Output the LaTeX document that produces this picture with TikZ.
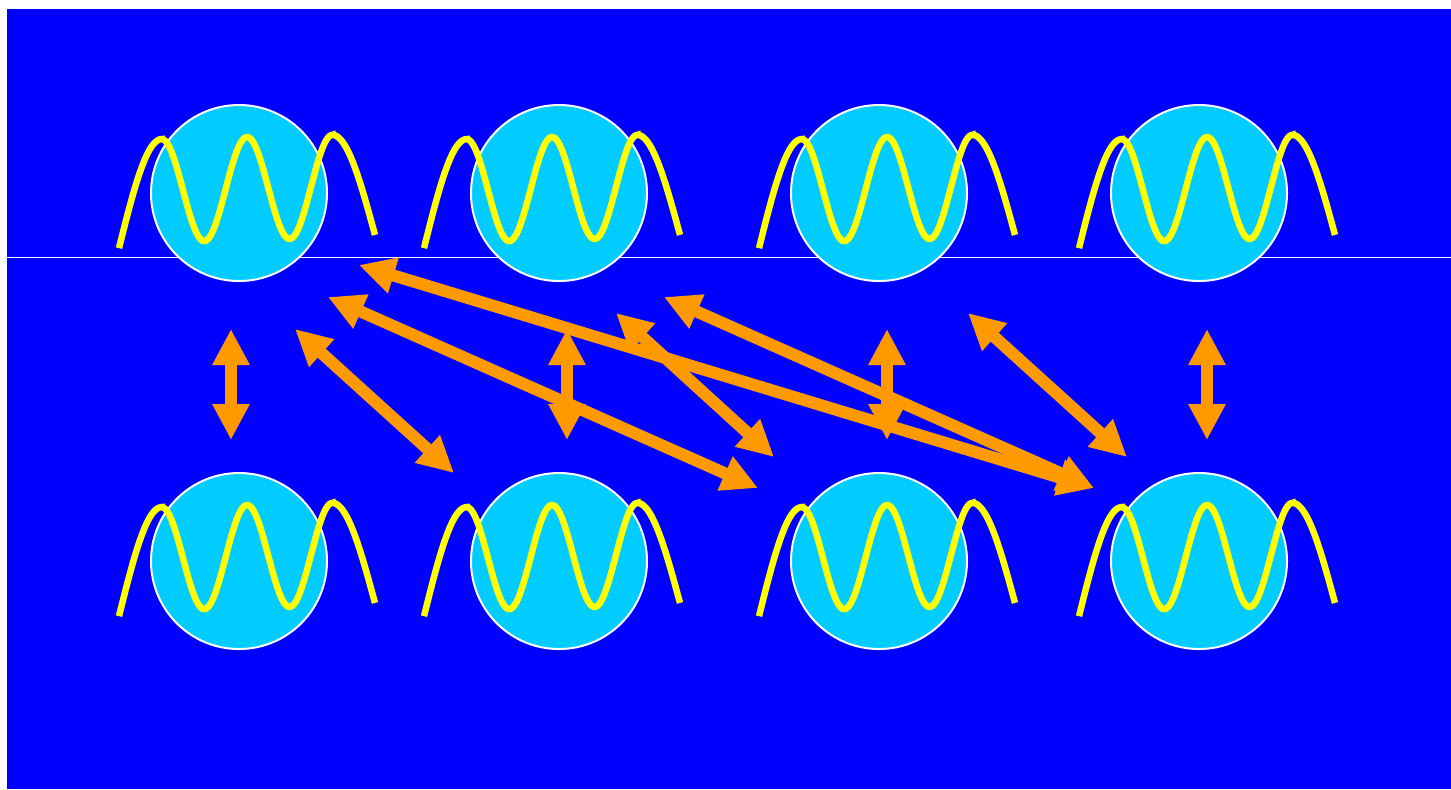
\documentclass[tikz,border=0pt]{standalone}
\usepackage{tikz}
\usetikzlibrary{arrows.meta}
\definecolor{backblue}{RGB}{0,0,255}
\definecolor{ballcyan}{RGB}{0,204,255}
\definecolor{linkorange}{RGB}{255,153,0}
\definecolor{waveyellow}{RGB}{255,255,0}
\tikzset{
	ball/.style={circle, fill=ballcyan, draw=white, line width=0.2mm, minimum size=17.6mm, inner sep=0pt},
	link/.style={draw=linkorange, line width=1.2mm, {Triangle[length=3.6mm,width=3.5mm]}-{Triangle[length=3.6mm,width=3.5mm]}},
	pics/ripple/.style={code={
		\draw[waveyellow, line width=0.65mm]
			plot[domain=-128:-85.33, samples=30, smooth] (\x,{-53.9+109*(1-cos(2.1094*(\x+85.33)))})
			-- plot[domain=-85.33:85.33, samples=90, smooth] (\x,{-4.5-0.025*\x-51.5*cos(4.21875*\x)})
			-- plot[domain=85.33:128, samples=30, smooth] (\x,{-58.1+100*(1-cos(2.1094*(\x-85.33)))});
	}}
}
\begin{document}
\begin{tikzpicture}[x=0.1mm, y=-0.1mm]
		\useasboundingbox (0,0) rectangle (1451,789);
		\fill[white] (0,0) rectangle (1451,789);
		\fill[backblue] (7,9) rectangle (1451,789);
		\draw[white, line width=0.1mm] (7,257)--(1451,257);
		% top row
		\node[ball] (t1) at (239,193) {};
		\node[ball] (t2) at (559,193) {};
		\node[ball] (t3) at (879,193) {};
		\node[ball] (t4) at (1199,193) {};
		\pic at (247,193) {ripple};
		\pic at (552,193) {ripple};
		\pic at (887,193) {ripple};
		\pic at (1207,193) {ripple};
		% bottom row
		\node[ball] (b1) at (239,561) {};
		\node[ball] (b2) at (559,561) {};
		\node[ball] (b3) at (879,561) {};
		\node[ball] (b4) at (1199,561) {};
		\pic at (247,561) {ripple};
		\pic at (552,561) {ripple};
		\pic at (887,561) {ripple};
		\pic at (1207,561) {ripple};
		%
		\coordinate (t1v) at (231,329);
		\coordinate (b1v) at (231,440);
		\coordinate (t2v) at (567,329);
		\coordinate (b2v) at (567,440);
		\coordinate (t3v) at (887,329);
		\coordinate (b3v) at (887,440);
		\coordinate (t4v) at (1207,329);
		\coordinate (b4v) at (1207,440);
		\coordinate (t1d) at (295,329);
		\coordinate (b2d) at (454,473);
		\coordinate (t2d) at (616,313);
		\coordinate (b3d) at (774,457);
		\coordinate (t3d) at (968,313);
		\coordinate (b4d) at (1127,457);
		\coordinate (t1l) at (328,297);
		\coordinate (b3l) at (758,488);
		\coordinate (t2l) at (664,297);
		\coordinate (b4l) at (1094,488);
		\coordinate (t1f) at (359,265);
		%
		\draw[link] (t1v)--(b1v);
		\draw[link] (t2v)--(b2v);
		\draw[link] (t3v)--(b3v);
		\draw[link] (t4v)--(b4v);
		\draw[link] (t1d)--(b2d);
		\draw[link] (t2d)--(b3d);
		\draw[link] (t3d)--(b4d);
		\draw[link] (t1l)--(b3l);
		\draw[link] (t2l)--(b4l);
		\draw[link] (t1f)--(b4l);
	\end{tikzpicture}
\end{document}
